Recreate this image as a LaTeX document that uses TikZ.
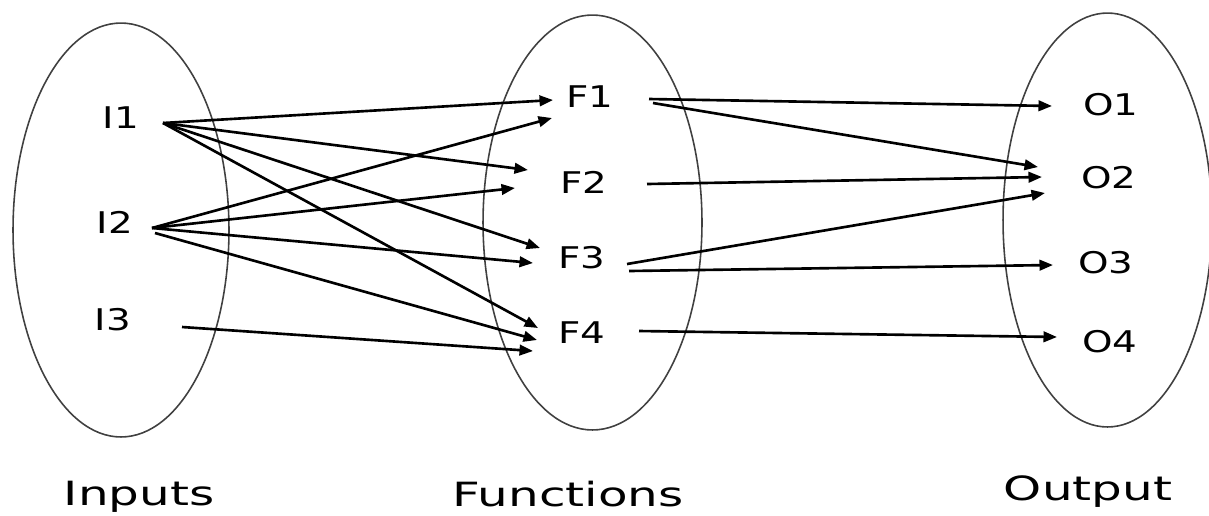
\documentclass[tikz,border=0pt]{standalone}
\usepackage{fontspec}
\setmainfont{DejaVu Sans}
\usepackage{graphicx}
\usetikzlibrary{arrows.meta}
\newcommand\hlab[1]{\scalebox{1.3}[1]{\fontsize{17}{20}\selectfont #1}}
\newcommand\htitle[1]{\scalebox{1.45}[1]{\fontsize{19}{22}\selectfont #1}}
\begin{document}
\begin{tikzpicture}[x=0.02cm,y=-0.02cm,
  set/.style={draw=black!75, line width=0.9pt},
  lab/.style={anchor=base, inner sep=0pt},
  conn/.style={line width=1.5pt, -{Triangle[length=0.27cm,width=0.21cm]}}]
\useasboundingbox (0,0) rectangle (1209,515);
% sets
\draw[set] (121,230) ellipse [x radius=2.16cm, y radius=4.14cm];
\draw[set] (592.5,222.5) ellipse [x radius=2.19cm, y radius=4.15cm];
\draw[set] (1107.5,220) ellipse [x radius=2.09cm, y radius=4.14cm];
% labels
\node[lab] (I1) at (121,128) {\hlab{I1}};
\node[lab] (I2) at (115,233) {\hlab{I2}};
\node[lab] (I3) at (113,330) {\hlab{I3}};
\node[lab] (F1) at (590,107) {\hlab{F1}};
\node[lab] (F2) at (584,193) {\hlab{F2}};
\node[lab] (F3) at (582,268) {\hlab{F3}};
\node[lab] (F4) at (582,343) {\hlab{F4}};
\node[lab] (O1) at (1111,115) {\hlab{O1}};
\node[lab] (O2) at (1109,188) {\hlab{O2}};
\node[lab] (O3) at (1106,273) {\hlab{O3}};
\node[lab] (O4) at (1110,352) {\hlab{O4}};
\node[lab] (tin) at (139,505) {\htitle{Inputs}};
\node[lab] (tfn) at (568,506) {\htitle{Functions}};
\node[lab] (tout) at (1088,500) {\htitle{Output}};
% connector end points
\coordinate (I1s) at (163,123);
\coordinate (I2s) at (152,228);
\coordinate (I2t) at (155,233);
\coordinate (I3s) at (182,327);
\coordinate (F1a) at (553,100);
\coordinate (F1b) at (552,118);
\coordinate (F2a) at (528,170);
\coordinate (F2b) at (515,188);
\coordinate (F3a) at (540,248);
\coordinate (F3b) at (533,263);
\coordinate (F4a) at (538,328);
\coordinate (F4b) at (537,340);
\coordinate (F4c) at (533,351);
\coordinate (F1s) at (649,99);
\coordinate (F1t) at (653,103);
\coordinate (F2s) at (647,184);
\coordinate (F3s) at (627,264);
\coordinate (F3t) at (629,271);
\coordinate (F4s) at (639,331);
\coordinate (O1a) at (1052,106);
\coordinate (O2a) at (1038,167);
\coordinate (O2b) at (1042,177);
\coordinate (O2c) at (1045,193);
\coordinate (O3a) at (1053,265);
\coordinate (O4a) at (1057,337);
% connectors
\draw[conn] (I1s) -- (F1a);
\draw[conn] (I1s) -- (F2a);
\draw[conn] (I1s) -- (F3a);
\draw[conn] (I1s) -- (F4a);
\draw[conn] (I2s) -- (F1b);
\draw[conn] (I2s) -- (F2b);
\draw[conn] (I2s) -- (F3b);
\draw[conn] (I2t) -- (F4b);
\draw[conn] (I3s) -- (F4c);
\draw[conn] (F1s) -- (O1a);
\draw[conn] (F1t) -- (O2a);
\draw[conn] (F2s) -- (O2b);
\draw[conn] (F3s) -- (O2c);
\draw[conn] (F3t) -- (O3a);
\draw[conn] (F4s) -- (O4a);
\end{tikzpicture}
\end{document}
